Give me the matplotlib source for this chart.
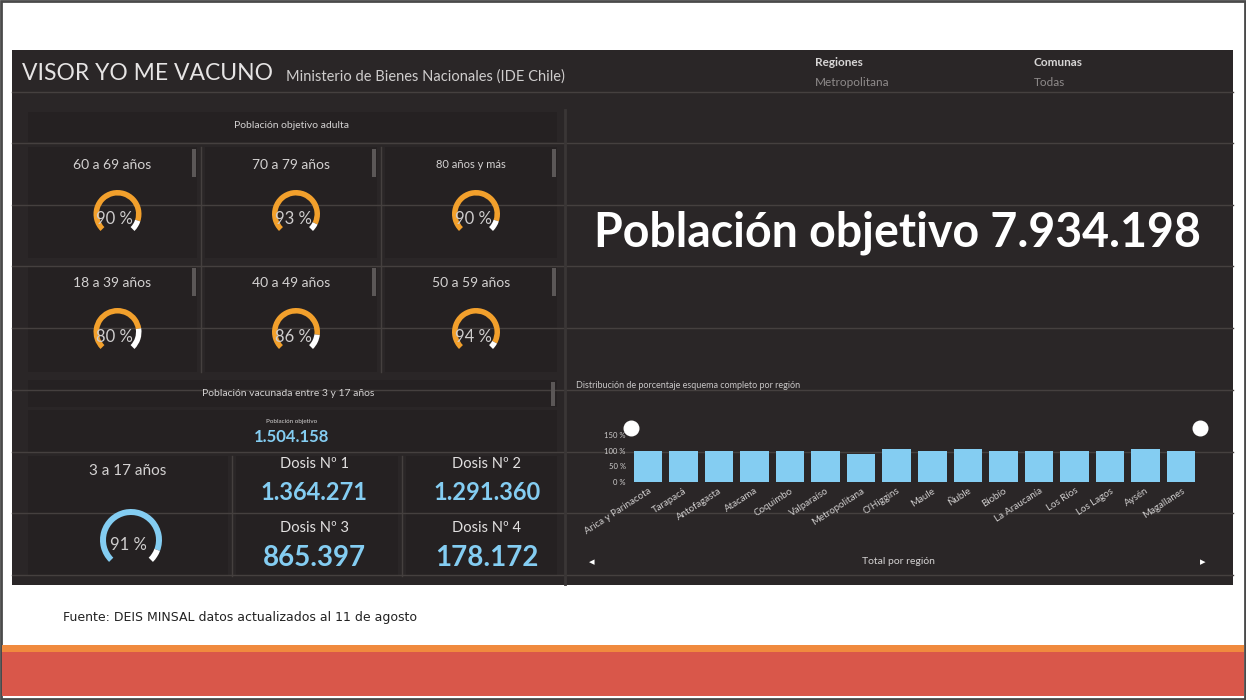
import matplotlib
matplotlib.use("Agg")
import matplotlib.pyplot as plt
from matplotlib.patches import Rectangle, Wedge

# values
adult_groups = ["60 a 69 años", "70 a 79 años", "80 años y más",
                "18 a 39 años", "40 a 49 años", "50 a 59 años"]
adult_pct = [90, 93, 90, 80, 86, 94]

child_group = "3 a 17 años"
child_pct = 91
child_target = 1504158

dose_labels = ["Dosis Nº 1", "Dosis Nº 2", "Dosis Nº 3", "Dosis Nº 4"]
dose_values = [1364271, 1291360, 865397, 178172]

target_total = 7934198

regions = ["Arica y Parinacota", "Tarapacá", "Antofagasta", "Atacama", "Coquimbo",
           "Valparaíso", "Metropolitana", "O'Higgins", "Maule", "Ñuble", "Biobío",
           "La Araucanía", "Los Ríos", "Los Lagos", "Aysén", "Magallanes"]
region_pct = [99, 100, 98, 100, 98, 98, 90, 104, 100, 104, 98, 100, 100, 98, 104, 100]
yticks = [0, 50, 100, 150]


def fmt(n):
    return f"{n:,}".replace(",", ".")


PANEL = "#2a2627"
TILE = "#252122"
LINE = "#45403f"
TXT = "#d4d2d2"
ORANGE = "#f2a02c"
BLUE = "#84cdf2"
FONT = "Lato"

fig = plt.figure(figsize=(12.46, 7.0), dpi=100, facecolor="white")
ax = fig.add_axes([0, 0, 1, 1])
ax.set_xlim(0, 1246)
ax.set_ylim(700, 0)
ax.axis("off")

# page frame, footer bands
ax.add_patch(Rectangle((1, 1), 1244, 698, fill=False, ec="#4a4a4a", lw=2))
ax.add_patch(Rectangle((2, 645), 1242, 8, color="#f08a3e", lw=0))
ax.add_patch(Rectangle((2, 652), 1242, 44, color="#d9574a", lw=0))
ax.text(63, 617, "Fuente: DEIS MINSAL datos actualizados al 11 de agosto",
        fontsize=9, family="Liberation Sans Narrow", color="#222222", va="center")

# dashboard panel
ax.add_patch(Rectangle((12, 50), 1221, 535, color=PANEL, lw=0))

# tiles of the left column
tile_cols = [(28, 197), (205, 377), (385, 557)]
tile_rows = [(147, 258), (266, 372)]
for r0, r1 in tile_rows:
    for c0, c1 in tile_cols:
        ax.add_patch(Rectangle((c0, r0), c1 - c0, r1 - r0, color=TILE, lw=0))
ax.add_patch(Rectangle((28, 112), 529, 30, color=TILE, lw=0))
ax.add_patch(Rectangle((28, 380), 529, 27, color=TILE, lw=0))
ax.add_patch(Rectangle((28, 410), 529, 42, color=TILE, lw=0))
for c0, c1 in [(28, 228), (236, 398), (406, 557)]:
    ax.add_patch(Rectangle((c0, 456), c1 - c0, 120, color=TILE, lw=0))

# faint layout grid lines
for y in [92, 143, 205, 266, 328, 390, 452, 513, 575]:
    ax.plot([12, 1233], [y, y], color=LINE, lw=1, zorder=1)
for x in [201, 381]:
    ax.plot([x, x], [147, 372], color=LINE, lw=1, zorder=1)
for x in [232, 402]:
    ax.plot([x, x], [456, 576], color=LINE, lw=1, zorder=1)
ax.plot([565, 565], [110, 584], color="#3a3636", lw=2, zorder=1)

# small scroll bars on the tiles
for c0, c1 in tile_cols:
    for r0, _ in tile_rows:
        ax.add_patch(Rectangle((c1 - 5, r0 + 2), 4, 28, color="#5b5757", lw=0, zorder=2))
ax.add_patch(Rectangle((551, 382), 4, 24, color="#5b5757", lw=0, zorder=2))

# header
ax.text(22, 74, "VISOR YO ME VACUNO", fontsize=16.5, family=FONT, color="#e6e4e4", va="center")
ax.text(286, 77, "Ministerio de Bienes Nacionales (IDE Chile)", fontsize=10.5,
        family=FONT, color="#cfcdcd", va="center")
ax.text(815, 63, "Regiones", fontsize=8.5, family=FONT, weight="bold", color="#d8d6d6", va="center")
ax.text(815, 83, "Metropolitana", fontsize=8.5, family=FONT, color="#8f8b8b", va="center")
ax.text(1034, 63, "Comunas", fontsize=8.5, family=FONT, weight="bold", color="#d8d6d6", va="center")
ax.text(1034, 83, "Todas", fontsize=8.5, family=FONT, color="#8f8b8b", va="center")

ax.text(292, 125, "Población objetivo adulta", fontsize=7.5, family=FONT, color=TXT,
        ha="center", va="center")


def gauge(cx, cy, r, w, pct, color, size):
    # 270 degree gauge; y axis is flipped so angles run clockwise on screen
    start, span = 135, 270
    end = start + span * pct / 100
    ax.add_patch(Wedge((cx, cy), r, start, end, width=w, color=color, lw=0, zorder=3))
    ax.add_patch(Wedge((cx, cy), r, end, start + span, width=w, color="white", lw=0, zorder=3))
    ax.text(cx - 3, cy + 5, f"{pct} %", fontsize=size, family=FONT, color="#cfcdcd",
            ha="center", va="center", zorder=4)


label_rows = [165, 283]
gauge_rows = [214, 332]
for i, (name, pct) in enumerate(zip(adult_groups, adult_pct)):
    c0, c1 = tile_cols[i % 3]
    cx = (c0 + c1) / 2
    row = i // 3
    fs = 8 if name == "80 años y más" else 10
    ax.text(cx, label_rows[row], name, fontsize=fs, family=FONT, color=TXT,
            ha="center", va="center")
    gauge(cx + 5, gauge_rows[row], 24, 5.5, pct, ORANGE, 12)

# children block
ax.text(288, 393, "Población vacunada entre 3 y 17 años", fontsize=7.5, family=FONT,
        color=TXT, ha="center", va="center")
ax.text(292, 421, "Población objetivo", fontsize=4.5, family=FONT, color=TXT,
        ha="center", va="center")
ax.text(292, 437, fmt(child_target), fontsize=12, family=FONT, weight="bold",
        color=BLUE, ha="center", va="center")
ax.text(128, 471, child_group, fontsize=11, family=FONT, color=TXT, ha="center", va="center")
gauge(131, 540, 31, 6, child_pct, BLUE, 12)

dose_pos = [(314, 464, 492), (487, 464, 492), (314, 528, 558), (487, 528, 558)]
for i, (lab, val) in enumerate(zip(dose_labels, dose_values)):
    x, yl, yv = dose_pos[i]
    ax.text(x, yl, lab, fontsize=10.5, family=FONT, color="#e2e0e0", ha="center", va="center")
    ax.text(x, yv, fmt(val), fontsize=17 if i < 2 else 20, family=FONT, weight="bold",
            color=BLUE, ha="center", va="center")

# big total
ax.text(898, 233, f"Población objetivo {fmt(target_total)}", fontsize=33.5, family=FONT,
        weight="bold", color="white", ha="center", va="center")

# region chart
ax.text(576, 385, "Distribución de porcentaje esquema completo por región", fontsize=6.5,
        family=FONT, color="#c9c7c7", va="center")
ax.scatter([631, 1200], [428, 428], s=110, color="white", zorder=5)
ax.text(898, 562, "Total por región", fontsize=7.5, family=FONT, color=TXT,
        ha="center", va="center")
ax.text(592, 562, "◂", fontsize=8, color="white", ha="center", va="center", family="DejaVu Sans")
ax.text(1203, 562, "▸", fontsize=8, color="white", ha="center", va="center", family="DejaVu Sans")

bx = fig.add_axes([630 / 1246, (700 - 482) / 700, 569 / 1246, 47 / 700])
bx.patch.set_alpha(0)
bx.bar(range(len(regions)), region_pct, width=0.8, color=BLUE, zorder=3)
bx.set_xlim(-0.5, len(regions) - 0.5)
bx.set_ylim(0, 150)
bx.set_yticks(yticks)
bx.set_yticklabels([f"{t} %" for t in yticks], fontsize=5.5, color="#cfcdcd", family=FONT)
bx.set_xticks(range(len(regions)))
bx.set_xticklabels(regions, rotation=33, ha="right", rotation_mode="anchor",
                   fontsize=7, color="#cfcdcd", family=FONT)
bx.tick_params(length=0, pad=3)
for s in bx.spines.values():
    s.set_visible(False)

fig.savefig("out.png", dpi=100, facecolor="white")
